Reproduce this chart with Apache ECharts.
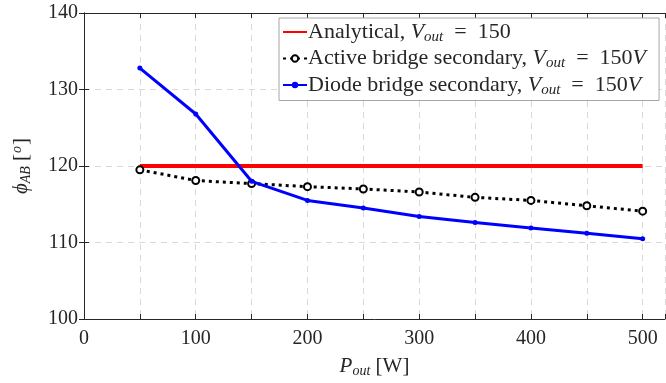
<!DOCTYPE html>
<html>
<head>
<meta charset="utf-8">
<script src="https://cdn.jsdelivr.net/npm/echarts@6/dist/echarts.min.js"></script>
<style>
  html, body { margin: 0; padding: 0; background: #fff; }
  #chart { width: 666px; height: 383px; }
</style>
</head>
<body>
<div id="chart"></div>
<script>
const FONT = "Liberation Serif";
const INK = "#262626";
const GRID = "#d9d9d9";

const pout = [50, 100, 150, 200, 250, 300, 350, 400, 450, 500];
const analytical = [120, 120, 120, 120, 120, 120, 120, 120, 120, 120];
const activeBridge = [119.5, 118.1, 117.7, 117.3, 117.0, 116.6, 115.9, 115.5, 114.8, 114.1];
const diodeBridge = [132.8, 126.8, 118.0, 115.5, 114.5, 113.4, 112.6, 111.9, 111.2, 110.5];

const pairs = (ys) => pout.map((x, i) => [x, ys[i]]);

function richSet(size) {
  const sub = Math.round(size * 0.68);
  return {
    n: { fontFamily: FONT, fontSize: size, color: INK },
    i: { fontFamily: FONT, fontSize: size, fontStyle: "italic", color: INK },
    s: { fontFamily: FONT, fontSize: sub, fontStyle: "italic", color: INK, verticalAlign: "bottom", padding: [Math.round(size * 0.45), 0, 0, 0] },
    u: { fontFamily: FONT, fontSize: sub, fontStyle: "italic", color: INK, padding: [0, 1, Math.round(size * 0.45), 1] },
  };
}

const chart = echarts.init(document.getElementById("chart"));

function axisBase() {
  return {
    axisLine: { show: true, lineStyle: { color: INK, width: 1 } },
    axisTick: { show: true, inside: true, length: 5, lineStyle: { color: INK } },
    axisLabel: { color: INK, fontFamily: FONT, fontSize: 20 },
  };
}

chart.setOption({
  animation: false,
  textStyle: { fontFamily: FONT },
  grid: { left: 84, right: 1, top: 13, bottom: 64, outerBoundsMode: "none" },
  legend: {
    orient: "vertical",
    left: 279,
    top: 18,
    padding: [3, 13, 3, 3],
    itemGap: 3,
    itemWidth: 24,
    itemHeight: 8,
    backgroundColor: "#fff",
    borderColor: "#a6a6a6",
    borderWidth: 1,
    textStyle: { rich: richSet(22), fontFamily: FONT, fontSize: 22, color: INK, padding: [0, 0, 0, -4] },
    formatter: (name) => ({
      analytical: "{n|Analytical, }{i|V}{s|out}{n|  =  150}",
      active: "{n|Active bridge secondary, }{i|V}{s|out}{n|  =  150}{i|V}",
      diode: "{n|Diode bridge secondary, }{i|V}{s|out}{n|  =  150}{i|V}",
    })[name],
    data: [
      { name: "analytical", itemStyle: { opacity: 0 } },
      { name: "active" },
      { name: "diode" },
    ],
  },
  xAxis: [
    {
      ...axisBase(),
      type: "value",
      min: 0,
      max: 520,
      interval: 50,
      axisLabel: { ...axisBase().axisLabel, margin: 10, formatter: (v) => (v % 100 === 0 ? String(v) : "") },
      splitLine: { show: true, lineStyle: { color: GRID, type: [6, 5] } },
      name: "{i|P}{s|out}{n| [W]}",
      nameLocation: "middle",
      nameGap: 36,
      nameTextStyle: { rich: richSet(21) },
    },
    {
      ...axisBase(),
      type: "value",
      position: "top",
      min: 0,
      max: 520,
      interval: 50,
      axisLabel: { show: false },
      splitLine: { show: false },
    },
  ],
  yAxis: [
    {
      ...axisBase(),
      type: "value",
      min: 100,
      max: 140,
      interval: 10,
      axisLabel: { ...axisBase().axisLabel, margin: 6 },
      splitLine: { show: true, lineStyle: { color: GRID, type: [6, 5] } },
      name: "{i|ϕ}{s|AB}{n| [}{u|o}{n|]}",
      nameLocation: "middle",
      nameGap: 51,
      nameTextStyle: { rich: richSet(21) },
    },
    {
      ...axisBase(),
      type: "value",
      position: "right",
      min: 100,
      max: 140,
      interval: 10,
      axisLabel: { show: false },
      splitLine: { show: false },
    },
  ],
  series: [
    {
      name: "analytical",
      type: "line",
      data: pairs(analytical),
      symbol: "none",
      lineStyle: { color: "#ff0000", width: 4 },
      itemStyle: { color: "#ff0000" },
      z: 2,
    },
    {
      name: "active",
      type: "line",
      data: pairs(activeBridge),
      symbol: "emptyCircle",
      symbolSize: 7,
      lineStyle: { color: "#000", width: 3, type: [3, 4] },
      itemStyle: { color: "#000", borderColor: "#000", borderWidth: 3 },
      z: 3,
    },
    {
      name: "diode",
      type: "line",
      data: pairs(diodeBridge),
      symbol: "circle",
      symbolSize: 5,
      lineStyle: { color: "#0000ff", width: 3 },
      itemStyle: { color: "#0000ff" },
      z: 4,
    },
  ],
});
</script>
</body>
</html>
